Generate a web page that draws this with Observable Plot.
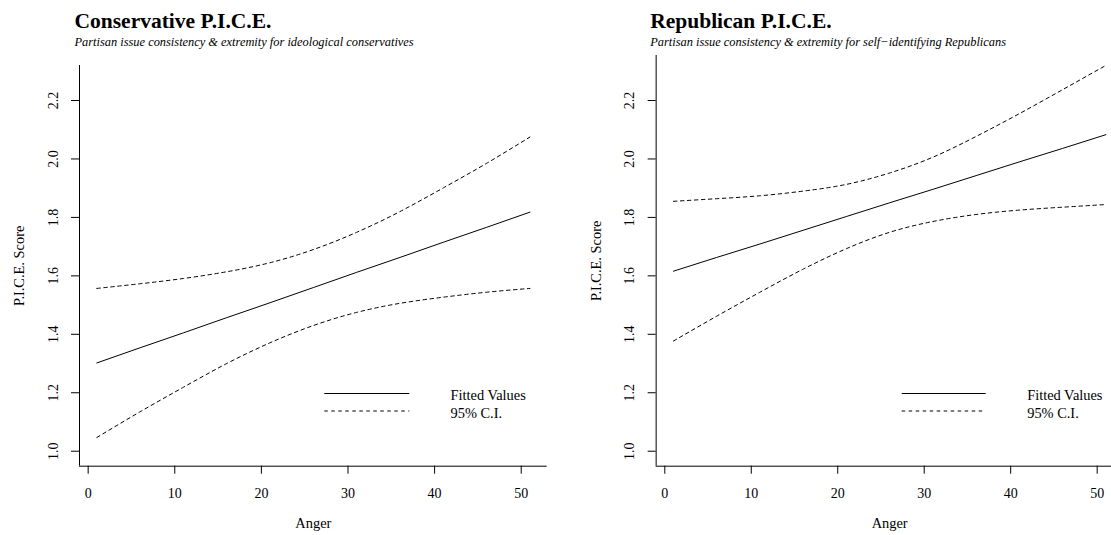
<!DOCTYPE html>
<html><head><meta charset="utf-8">
<script src="https://cdn.jsdelivr.net/npm/d3@7"></script>
<script src="https://cdn.jsdelivr.net/npm/@observablehq/plot@0.6"></script>
<style>
html,body{margin:0;padding:0;background:#fff;overflow:hidden;}
#wrap{position:relative;width:1111px;height:535px;overflow:hidden;font-family:"Liberation Serif","Times New Roman",serif;}
#wrap > svg{position:absolute;top:0;margin:0;}
</style></head><body><div id="wrap"></div>
<script>
// ---- data ----
const anger = [1, 6, 11, 16, 21, 26, 31, 36, 41, 46, 51];
const consFit   = [1.302, 1.354, 1.405, 1.457, 1.508, 1.560, 1.612, 1.663, 1.715, 1.766, 1.818];
const consUpper = [1.557, 1.573, 1.591, 1.614, 1.645, 1.690, 1.749, 1.820, 1.901, 1.985, 2.075];
const consLower = [1.047, 1.135, 1.219, 1.300, 1.371, 1.430, 1.475, 1.506, 1.527, 1.544, 1.557];
const repFit    = [1.616, 1.663, 1.709, 1.756, 1.803, 1.850, 1.896, 1.943, 1.990, 2.036, 2.083];
const repUpper  = [1.855, 1.864, 1.874, 1.890, 1.913, 1.952, 2.006, 2.077, 2.155, 2.237, 2.320];
const repLower  = [1.377, 1.462, 1.544, 1.623, 1.693, 1.749, 1.786, 1.810, 1.825, 1.835, 1.844];
const xTicks = [0, 10, 20, 30, 40, 50];
const yTicks = [1.0, 1.2, 1.4, 1.6, 1.8, 2.0, 2.2];
const xLabel = "Anger";
const yLabel = "P.I.C.E. Score";
const legendLabels = ["Fitted Values", "95% C.I."];
const titles = ["Conservative P.I.C.E.", "Republican P.I.C.E."];
const subtitles = [
  "Partisan issue consistency & extremity for ideological conservatives",
  "Partisan issue consistency & extremity for self\u2212identifying Republicans"
];
const xDomain = [-1, 53];
const consYDomain = [0.9487, 2.3198];
const repYDomain = [0.9487, 2.354];

const FONT = "Liberation Serif";
const DASH = "3.5,3.5";

function panel({fit, upper, lower, yDomain, width, marginLeft, marginRight, marginTop}) {
  const rows = anger.map((a, i) => ({anger: a, fit: fit[i], upper: upper[i], lower: lower[i]}));
  return Plot.plot({
    width, height: 535, marginLeft, marginRight, marginTop, marginBottom: 69.3,
    style: {fontFamily: FONT, fontSize: "14px", color: "#000", background: "transparent", overflow: "visible"},
    x: {domain: xDomain},
    y: {domain: yDomain},
    marks: [
      Plot.ruleX([xDomain[0]], {stroke: "#000"}),
      Plot.ruleY([yDomain[0]], {stroke: "#000"}),
      Plot.axisX({ticks: xTicks, tickSize: 8, tickPadding: 14, label: null, fontSize: 14, tickFormat: d => String(d)}),
      Plot.axisY({ticks: yTicks, tickSize: 8, tickPadding: 14, tickRotate: -90, label: null, fontSize: 14, tickFormat: d3.format(".1f")}),
      Plot.text([xLabel], {frameAnchor: "bottom", dy: 62, fontSize: 14.4, fill: "#000"}),
      Plot.text([yLabel], {frameAnchor: "left", textAnchor: "middle", dx: -60, rotate: -90, fontSize: 14.4, fill: "#000"}),
      Plot.line(rows, {x: "anger", y: "upper", curve: "natural", stroke: "#000", strokeWidth: 1, strokeDasharray: DASH}),
      Plot.line(rows, {x: "anger", y: "lower", curve: "natural", stroke: "#000", strokeWidth: 1, strokeDasharray: DASH}),
      Plot.line(rows, {x: "anger", y: "fit", stroke: "#000", strokeWidth: 1})
    ]
  });
}

const wrap = document.getElementById("wrap");
const left = panel({fit: consFit, upper: consUpper, lower: consLower, yDomain: consYDomain,
  width: 555, marginLeft: 79, marginRight: 8.3, marginTop: 65});
left.style.left = "0px";
wrap.appendChild(left);
const right = panel({fit: repFit, upper: repUpper, lower: repLower, yDomain: repYDomain,
  width: 570, marginLeft: 100.65, marginRight: 2.4, marginTop: 55});
right.style.left = "555px";
wrap.appendChild(right);

// overlay: titles, subtitles, legends
const ov = d3.select(wrap).append("svg")
  .attr("width", 1111).attr("height", 535)
  .style("left", "0px").style("pointer-events", "none")
  .attr("font-family", FONT);

const panelsInfo = [
  {tx: 74.5, lx1: 324.3, lx2: 409.3, ltx: 450.5},
  {tx: 650.2, lx1: 901.7, lx2: 985.7, ltx: 1027.2}
];
panelsInfo.forEach((p, i) => {
  ov.append("text").attr("x", p.tx).attr("y", 28).attr("font-size", 21.5).attr("font-weight", "bold")
    .attr("fill", "#000").text(titles[i]);
  ov.append("text").attr("x", p.tx).attr("y", 46).attr("font-size", 12.4).attr("font-style", "italic")
    .attr("fill", "#000").text(subtitles[i]);
  ov.append("line").attr("x1", p.lx1).attr("x2", p.lx2).attr("y1", 393.5).attr("y2", 393.5)
    .attr("stroke", "#000").attr("stroke-width", 1);
  ov.append("line").attr("x1", p.lx1).attr("x2", p.lx2).attr("y1", 411).attr("y2", 411)
    .attr("stroke", "#000").attr("stroke-width", 1).attr("stroke-dasharray", DASH);
  ov.append("text").attr("x", p.ltx).attr("y", 400).attr("font-size", 14.4).attr("fill", "#000").text(legendLabels[0]);
  ov.append("text").attr("x", p.ltx).attr("y", 418).attr("font-size", 14.4).attr("fill", "#000").text(legendLabels[1]);
});
</script></body></html>
